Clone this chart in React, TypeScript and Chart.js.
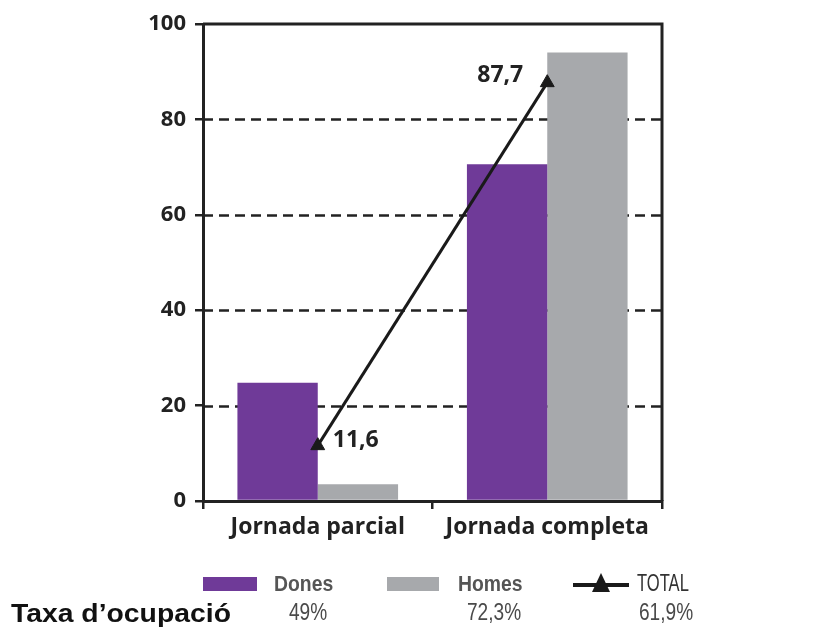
import React, { useEffect, useRef } from 'react';
import { Chart, registerables } from 'chart.js';

Chart.register(...registerables);

const categories = ['Jornada parcial', 'Jornada completa'];
const donesValues = [24.8, 70.6];
const homesValues = [3.5, 94.0];
const totalValues = [11.6, 87.7];
const yTickValues = [0, 20, 40, 60, 80, 100];
const legendLabels = ['Dones', 'Homes', 'TOTAL'];
const rateLabels = ['49%', '72,3%', '61,9%'];
const rowTitle = 'Taxa d\u2019ocupació';

const PURPLE = '#6f3a98';
const GRAY = '#a7a9ac';
const INK = '#222222';
const AXIS_FONT = '"Open Sans", sans-serif';

const frame = {
  id: 'frame',
  beforeDatasetsDraw(chart: any) {
    const { ctx, chartArea } = chart;
    const y = chart.scales.y;
    ctx.save();
    ctx.strokeStyle = INK;
    ctx.lineWidth = 2.5;
    ctx.setLineDash([10, 6]);
    yTickValues.forEach((v) => {
      if (v === y.min || v === y.max) return;
      const py = Math.round(y.getPixelForValue(v)) + 0.5;
      ctx.beginPath();
      ctx.moveTo(chartArea.left, py);
      ctx.lineTo(chartArea.right, py);
      ctx.stroke();
    });
    ctx.restore();
  },
  afterDatasetsDraw(chart: any) {
    const { ctx, chartArea } = chart;
    const y = chart.scales.y;
    ctx.save();
    ctx.strokeStyle = INK;
    ctx.lineWidth = 3;
    const top = y.getPixelForValue(y.max);
    ctx.beginPath();
    ctx.moveTo(chartArea.left, top);
    ctx.lineTo(chartArea.right, top);
    ctx.lineTo(chartArea.right, chartArea.bottom);
    ctx.stroke();
    const meta = chart.getDatasetMeta(2);
    ctx.fillStyle = INK;
    ctx.font = 'bold 23px ' + AXIS_FONT;
    ctx.textBaseline = 'middle';
    meta.data.forEach((pt: any, i: number) => {
      const txt = String(totalValues[i]).replace('.', ',');
      if (i === 0) {
        ctx.textAlign = 'left';
        ctx.fillText(txt, pt.x + 15, pt.y - 5);
      } else {
        ctx.textAlign = 'right';
        ctx.fillText(txt, pt.x - 24, pt.y - 7);
      }
    });
    ctx.restore();
  },
};

export default function App() {
  const ref = useRef<HTMLCanvasElement>(null);
  useEffect(() => {
    if (!ref.current) return;
    const chart = new Chart(ref.current, {
      type: 'bar',
      data: {
        labels: categories,
        datasets: [
          {
            label: legendLabels[0],
            data: donesValues,
            backgroundColor: PURPLE,
            categoryPercentage: 0.7,
            barPercentage: 1,
            order: 2,
          },
          {
            label: legendLabels[1],
            data: homesValues,
            backgroundColor: GRAY,
            categoryPercentage: 0.7,
            barPercentage: 1,
            order: 2,
          },
          {
            type: 'line',
            label: legendLabels[2],
            data: totalValues,
            borderColor: '#1a1a1a',
            backgroundColor: '#1a1a1a',
            borderWidth: 3,
            pointStyle: 'triangle',
            pointRadius: 8,
            pointBorderWidth: 1,
            order: 0,
          } as any,
        ],
      },
      options: {
        responsive: false,
        animation: false,
        layout: { padding: { top: 24, right: 162, bottom: 0, left: 0 } },
        plugins: { legend: { display: false }, tooltip: { enabled: false } },
        scales: {
          x: {
            afterFit: (s: any) => { s.height = 129; },
            grid: { offset: true, drawOnChartArea: false, drawTicks: true, tickLength: 8, color: INK, lineWidth: 2.5 },
            border: { display: true, color: INK, width: 3 },
            ticks: { color: INK, padding: 5, font: { family: AXIS_FONT, size: 23, weight: 'bold' } },
          },
          y: {
            min: 0,
            max: 100,
            afterFit: (s: any) => { s.width = 203; },
            afterBuildTicks: (s: any) => { s.ticks = yTickValues.map((v) => ({ value: v })); },
            grid: { drawOnChartArea: false, drawTicks: true, tickLength: 8, color: INK, lineWidth: 2.5 },
            border: { display: true, color: INK, width: 3 },
            ticks: { color: INK, padding: 9, font: { family: AXIS_FONT, size: 22, weight: 'bold' } },
          },
        },
      },
      plugins: [frame],
    });
    return () => chart.destroy();
  }, []);

  const legendText: React.CSSProperties = {
    position: 'absolute', top: 573, fontFamily: '"Liberation Sans", Arial, sans-serif', fontWeight: 'bold',
    fontSize: 22, lineHeight: '22px', color: '#555555', whiteSpace: 'nowrap',
    transform: 'scaleX(0.88)', transformOrigin: '0 0',
  };
  const narrow: React.CSSProperties = {
    position: 'absolute', fontFamily: '"Liberation Sans", sans-serif',
    fontSize: 23, lineHeight: '23px', color: '#4a4a4a', whiteSpace: 'nowrap',
    transform: 'scaleX(0.83)', transformOrigin: '0 0',
  };

  return (
    <div style={{ position: 'absolute', left: 0, top: 0, width: 824, height: 630, background: '#fff', overflow: 'hidden' }}>
      <canvas ref={ref} width={824} height={630} style={{ position: 'absolute', left: 0, top: 0 }} />
      <div style={{ position: 'absolute', left: 203, top: 577, width: 54, height: 14, background: PURPLE }} />
      <div style={{ ...legendText, left: 274 }}>{legendLabels[0]}</div>
      <div style={{ position: 'absolute', left: 387, top: 577, width: 52, height: 14, background: GRAY }} />
      <div style={{ ...legendText, left: 458 }}>{legendLabels[1]}</div>
      <div style={{ position: 'absolute', left: 573, top: 583, width: 56, height: 4, background: '#1a1a1a' }} />
      <div style={{ position: 'absolute', left: 592, top: 573, width: 0, height: 0, borderLeft: '9px solid transparent', borderRight: '9px solid transparent', borderBottom: '19px solid #1a1a1a' }} />
      <div style={{ ...narrow, left: 637, top: 572, fontSize: 23, lineHeight: '23px', color: '#333', transform: 'scaleX(0.72)' }}>{legendLabels[2]}</div>
      <div style={{ position: 'absolute', left: 11, top: 600, fontFamily: '"Liberation Sans", Arial, sans-serif', fontWeight: 'bold', fontSize: 26, lineHeight: '26px', color: '#111', whiteSpace: 'nowrap', transform: 'scaleX(1.09)', transformOrigin: '0 0' }}>{rowTitle}</div>
      <div style={{ ...narrow, left: 289, top: 601 }}>{rateLabels[0]}</div>
      <div style={{ ...narrow, left: 467, top: 601 }}>{rateLabels[1]}</div>
      <div style={{ ...narrow, left: 639, top: 601 }}>{rateLabels[2]}</div>
    </div>
  );
}
